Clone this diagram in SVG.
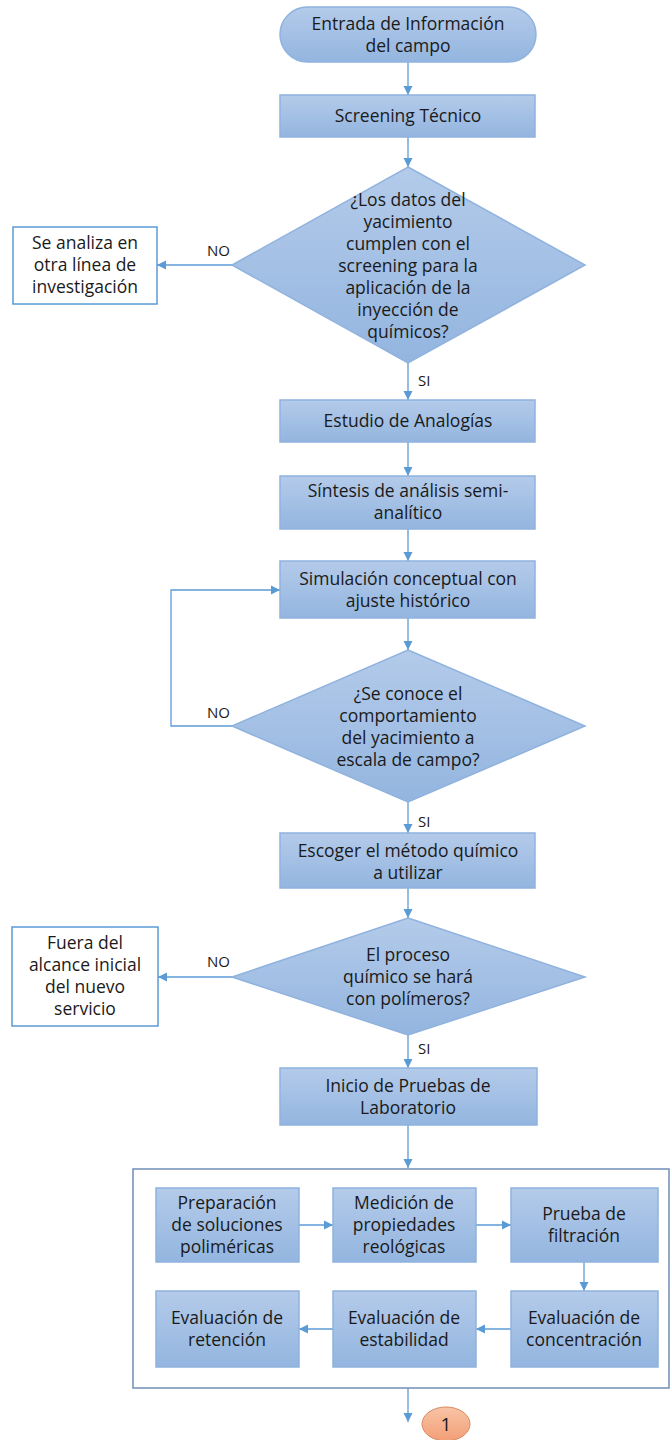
<svg xmlns="http://www.w3.org/2000/svg" width="670" height="1440" viewBox="0 0 670 1440">
<defs>
<linearGradient id="g" x1="0" y1="0" x2="0" y2="1"><stop offset="0" stop-color="#b4cbea"/><stop offset="1" stop-color="#93b5df"/></linearGradient>
<linearGradient id="go" x1="0" y1="0" x2="0" y2="1"><stop offset="0" stop-color="#f8c4a6"/><stop offset="1" stop-color="#f29e76"/></linearGradient>
<marker id="a" markerUnits="userSpaceOnUse" markerWidth="10" markerHeight="10" refX="9" refY="5" orient="auto"><path d="M0,0.5 L9,5 L0,9.5 Z" fill="#5b9bd5"/></marker>
<style>
.n{fill:url(#g);stroke:#8fb2de;stroke-width:1.5}
.w{fill:#fff;stroke:#5b9bd5;stroke-width:1.5}
.t{font-family:"Open Sans","Liberation Sans",sans-serif;font-size:17.5px;fill:#1a1a1a;text-anchor:middle}
.l{font-family:"Open Sans","Liberation Sans",sans-serif;font-size:15px;fill:#1a1a1a}
.c{fill:none;stroke:#5b9bd5;stroke-width:1.3;marker-end:url(#a)}
</style>
</defs>
<g id="connectors">
<path class="c" d="M408,62 V95"/>
<path class="c" d="M408,137 V167"/>
<path class="c" d="M232,265 H157"/>
<path class="c" d="M408,363 V400"/>
<path class="c" d="M408,442 V476"/>
<path class="c" d="M408,529 V561"/>
<path class="c" d="M408,618 V650"/>
<path class="c" d="M232,726 H171 V590 H280"/>
<path class="c" d="M408,802 V833"/>
<path class="c" d="M408,888 V918"/>
<path class="c" d="M232,977 H158"/>
<path class="c" d="M408,1035 V1068"/>
<path class="c" d="M408,1125 V1168"/>
<path class="c" d="M299,1225 H333"/>
<path class="c" d="M476,1225 H511"/>
<path class="c" d="M584,1262 V1291"/>
<path class="c" d="M511,1329 H476"/>
<path class="c" d="M333,1329 H299"/>
<path class="c" d="M408,1388 V1422"/>
<text class="l" x="207" y="256">NO</text>
<text class="l" x="418" y="386">SI</text>
<text class="l" x="207" y="718">NO</text>
<text class="l" x="418" y="827">SI</text>
<text class="l" x="207" y="967">NO</text>
<text class="l" x="418" y="1054">SI</text>
</g>
<g id="inicio"><rect class="n" x="280" y="7" width="256" height="55" rx="27.5"/><text class="t" x="408" y="30">Entrada de Información</text><text class="t" x="408" y="52">del campo</text></g>
<g id="screening"><rect class="n" x="280" y="95" width="255" height="42"/><text class="t" x="408" y="122">Screening Técnico</text></g>
<g id="decision1"><polygon class="n" points="408,167 585,265 408,363 232,265"/>
<text class="t" x="408" y="206">¿Los datos del</text><text class="t" x="408" y="228">yacimiento</text><text class="t" x="408" y="250">cumplen con el</text><text class="t" x="408" y="272">screening para la</text><text class="t" x="408" y="294">aplicación de la</text><text class="t" x="408" y="316">inyección de</text><text class="t" x="408" y="338">químicos?</text></g>
<g id="otra-linea"><rect class="w" x="13" y="227" width="144" height="77"/><text class="t" x="85" y="249">Se analiza en</text><text class="t" x="85" y="271">otra línea de</text><text class="t" x="85" y="293">investigación</text></g>
<g id="analogias"><rect class="n" x="280" y="400" width="255" height="42"/><text class="t" x="408" y="427">Estudio de Analogías</text></g>
<g id="sintesis"><rect class="n" x="280" y="476" width="255" height="53"/><text class="t" x="408" y="497">Síntesis de análisis semi-</text><text class="t" x="408" y="519">analítico</text></g>
<g id="simulacion"><rect class="n" x="280" y="561" width="255" height="57"/><text class="t" x="408" y="585">Simulación conceptual con</text><text class="t" x="408" y="607">ajuste histórico</text></g>
<g id="decision2"><polygon class="n" points="408,650 585,726 408,802 232,726"/>
<text class="t" x="408" y="700">¿Se conoce el</text><text class="t" x="408" y="722">comportamiento</text><text class="t" x="408" y="744">del yacimiento a</text><text class="t" x="408" y="766">escala de campo?</text></g>
<g id="escoger"><rect class="n" x="280" y="833" width="255" height="55"/><text class="t" x="408" y="857">Escoger el método químico</text><text class="t" x="408" y="879">a utilizar</text></g>
<g id="decision3"><polygon class="n" points="408,918 585,977 408,1035 232,977"/>
<text class="t" x="408" y="961">El proceso</text><text class="t" x="408" y="983">químico se hará</text><text class="t" x="408" y="1005">con polímeros?</text></g>
<g id="fuera"><rect class="w" x="12" y="927" width="146" height="99"/><text class="t" x="85" y="949">Fuera del</text><text class="t" x="85" y="971">alcance inicial</text><text class="t" x="85" y="993">del nuevo</text><text class="t" x="85" y="1015">servicio</text></g>
<g id="laboratorio"><rect class="n" x="280" y="1068" width="257" height="57"/><text class="t" x="408" y="1092">Inicio de Pruebas de</text><text class="t" x="408" y="1114">Laboratorio</text></g>
<g id="contenedor"><rect x="133" y="1169" width="536" height="219" fill="none" stroke="#6f8fb5" stroke-width="1.5"/></g>
<g id="preparacion"><rect class="n" x="156" y="1188" width="143" height="74"/><text class="t" x="227" y="1209">Preparación</text><text class="t" x="227" y="1231">de soluciones</text><text class="t" x="227" y="1253">poliméricas</text></g>
<g id="medicion"><rect class="n" x="333" y="1188" width="143" height="74"/><text class="t" x="404" y="1209">Medición de</text><text class="t" x="404" y="1231">propiedades</text><text class="t" x="404" y="1253">reológicas</text></g>
<g id="filtracion"><rect class="n" x="511" y="1188" width="147" height="74"/><text class="t" x="584" y="1220">Prueba de</text><text class="t" x="584" y="1242">filtración</text></g>
<g id="concentracion"><rect class="n" x="511" y="1291" width="147" height="76"/><text class="t" x="584" y="1324">Evaluación de</text><text class="t" x="584" y="1346">concentración</text></g>
<g id="estabilidad"><rect class="n" x="333" y="1291" width="143" height="76"/><text class="t" x="404" y="1324">Evaluación de</text><text class="t" x="404" y="1346">estabilidad</text></g>
<g id="retencion"><rect class="n" x="156" y="1291" width="143" height="76"/><text class="t" x="227" y="1324">Evaluación de</text><text class="t" x="227" y="1346">retención</text></g>
<g id="conector1"><ellipse cx="446" cy="1424" rx="24" ry="17" fill="url(#go)" stroke="#d98a62" stroke-width="1"/><text class="t" x="446" y="1431" style="font-size:19px">1</text></g>
</svg>
